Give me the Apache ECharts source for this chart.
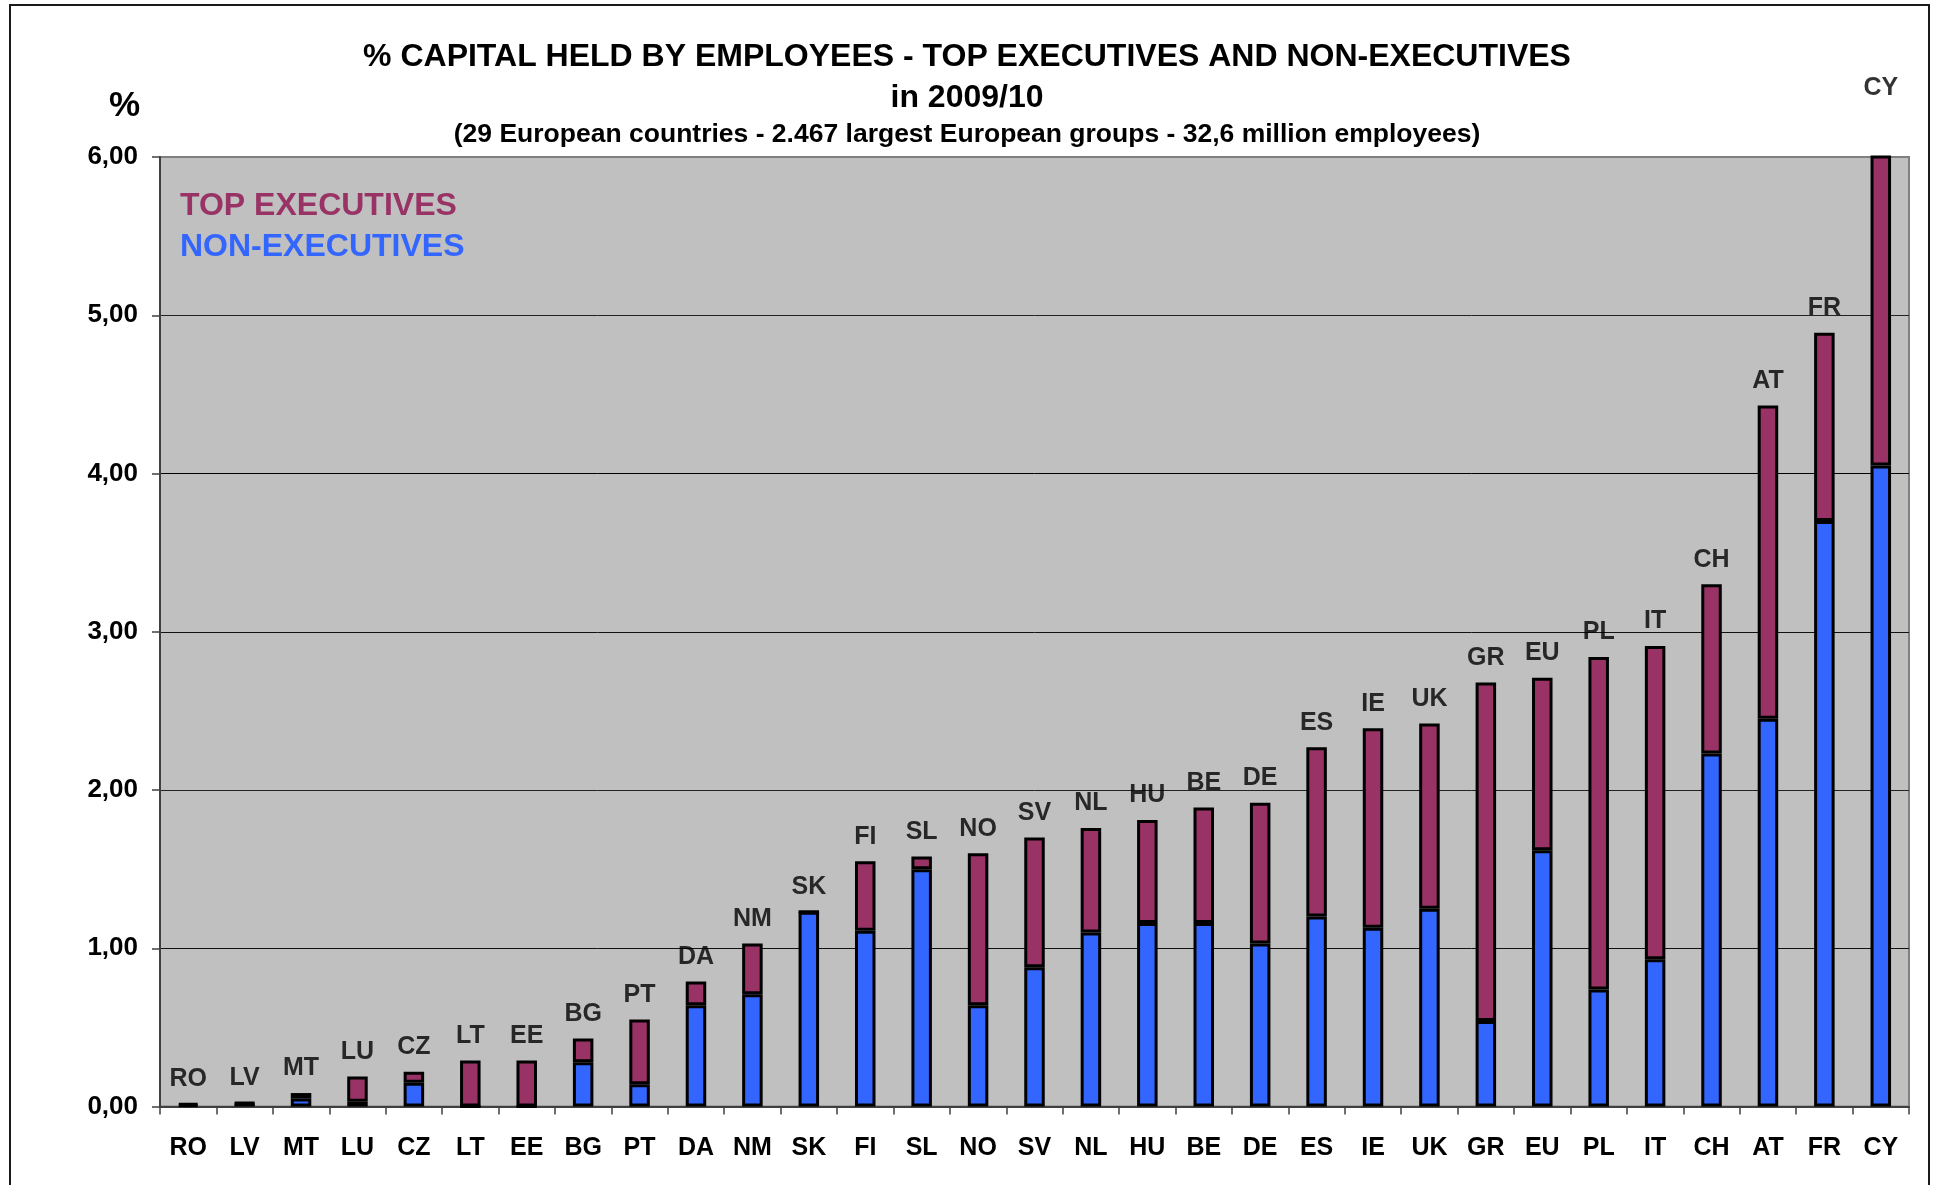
<!DOCTYPE html>
<html>
<head>
<meta charset="utf-8">
<script src="https://cdn.jsdelivr.net/npm/echarts@6/dist/echarts.min.js"></script>
<style>
html,body{margin:0;padding:0;background:#fff;}
#chart{width:1934px;height:1185px;}
</style>
</head>
<body>
<div id="chart"></div>
<script>
const categories = ['RO','LV','MT','LU','CZ','LT','EE','BG','PT','DA','NM','SK','FI','SL','NO','SV','NL','HU','BE','DE','ES','IE','UK','GR','EU','PL','IT','CH','AT','FR','CY'];
const nonExecutives = [0.01,0.02,0.05,0.03,0.15,0,0,0.28,0.14,0.64,0.71,1.23,1.11,1.50,0.64,0.88,1.10,1.16,1.16,1.03,1.20,1.13,1.25,0.54,1.62,0.74,0.93,2.23,2.45,3.70,4.05];
const topExecutives = [0.01,0.003,0.035,0.16,0.07,0.29,0.29,0.15,0.41,0.15,0.32,0,0.44,0.08,0.96,0.82,0.66,0.65,0.73,0.89,1.07,1.26,1.17,2.14,1.09,2.10,1.98,1.07,1.98,1.19,2.23];
const yTickLabels = ['0,00','1,00','2,00','3,00','4,00','5,00','6,00'];

const totals = nonExecutives.map((v, i) => +(v + topExecutives[i]).toFixed(3));
const FONT = 'Liberation Sans, Arial, sans-serif';

const chart = echarts.init(document.getElementById('chart'), null, {renderer: 'canvas'});
chart.setOption({
  animation: false,
  backgroundColor: '#ffffff',
  textStyle: {fontFamily: FONT},
  graphic: [{
    type: 'rect', silent: true, z: 100,
    shape: {x: 10, y: 5, width: 1919, height: 1200},
    style: {fill: 'none', stroke: '#1a1a1a', lineWidth: 2}
  }],
  title: [
    {
      text: '% CAPITAL HELD BY EMPLOYEES - TOP EXECUTIVES AND NON-EXECUTIVES\nin 2009/10',
      left: 'center', top: 32,
      textStyle: {fontFamily: FONT, fontSize: 32, fontWeight: 'bold', color: '#000', lineHeight: 40.5}
    },
    {
      text: '(29 European countries - 2.467 largest European groups - 32,6 million employees)',
      left: 'center', top: 115,
      textStyle: {fontFamily: FONT, fontSize: 26.5, fontWeight: 'bold', color: '#000', lineHeight: 30}
    },
    {
      text: '%',
      left: 104, top: 82,
      textStyle: {fontFamily: FONT, fontSize: 35, fontWeight: 'bold', color: '#000', lineHeight: 38}
    }
  ],
  legend: {
    orient: 'vertical',
    left: 170, top: 183,
    icon: 'none',
    itemWidth: 0, itemHeight: 10, itemGap: 5,
    selectedMode: false,
    textStyle: {fontFamily: FONT, fontSize: 32, fontWeight: 'bold', lineHeight: 36},
    data: [
      {name: 'TOP EXECUTIVES', textStyle: {color: '#993366'}},
      {name: 'NON-EXECUTIVES', textStyle: {color: '#3366FF'}}
    ]
  },
  grid: {
    left: 160, right: 25, top: 157, bottom: 78.5,
    show: true, backgroundColor: '#C0C0C0', borderColor: '#808080', borderWidth: 2
  },
  xAxis: {
    type: 'category',
    data: categories,
    axisLine: {show: true, lineStyle: {color: '#404040', width: 2}},
    axisTick: {show: true, length: 8, alignWithLabel: false, lineStyle: {color: '#404040', width: 1.5}},
    axisLabel: {interval: 0, margin: 29, color: '#000', fontFamily: FONT, fontSize: 25, fontWeight: 'bold'},
    splitLine: {show: false}
  },
  yAxis: {
    type: 'value',
    min: 0, max: 6, interval: 1,
    axisLine: {show: true, lineStyle: {color: '#404040', width: 2}},
    axisTick: {show: true, length: 8, inside: false, lineStyle: {color: '#404040', width: 1.5}},
    axisLabel: {
      margin: 22, color: '#000', fontFamily: FONT, fontSize: 26, fontWeight: 'bold',
      formatter: v => yTickLabels[Math.round(v)]
    },
    splitLine: {show: true, lineStyle: {color: ['#000','#111','#222','#111','#000','#222','#808080'], width: 1}}
  },
  series: [
    {
      name: 'NON-EXECUTIVES', type: 'bar', stack: 'total', clip: true,
      barWidth: 20.5,
      data: nonExecutives,
      itemStyle: {color: '#3366FF', borderColor: '#000', borderWidth: 3}
    },
    {
      name: 'TOP EXECUTIVES', type: 'bar', stack: 'total', clip: true,
      barWidth: 20.5,
      data: topExecutives,
      itemStyle: {color: '#993366', borderColor: '#000', borderWidth: 3}
    },
    {
      name: 'labels', type: 'scatter', clip: false, silent: true, z: 10,
      symbolSize: 0,
      data: totals,
      label: {
        show: true, position: 'top', distance: 12,
        formatter: p => categories[p.dataIndex],
        color: '#000', fontFamily: FONT, fontSize: 25, fontWeight: 'bold'
      }
    }
  ]
});
</script>
</body>
</html>
